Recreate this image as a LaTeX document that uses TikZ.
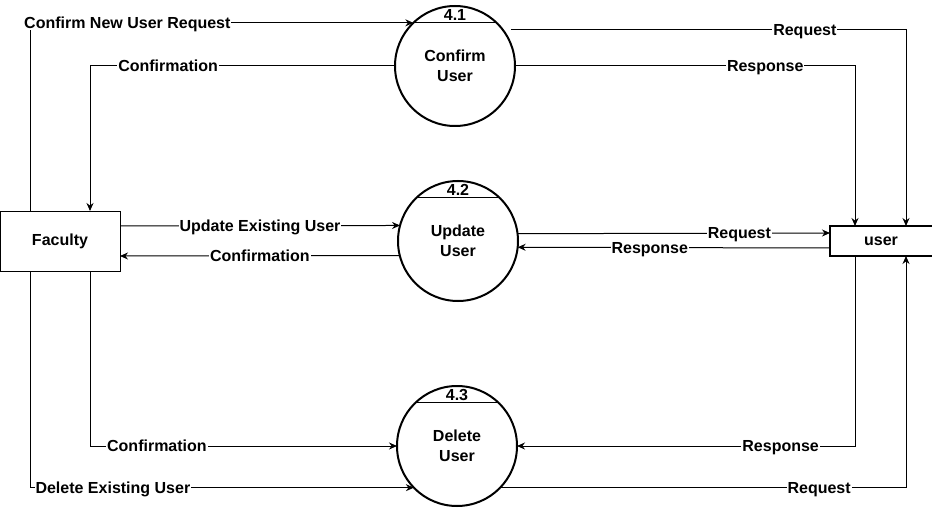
\documentclass[tikz,border=0pt]{standalone}
\usepackage{fontspec}
\setmainfont{Liberation Sans}
\usetikzlibrary{arrows.meta}

\begin{document}
\begin{tikzpicture}[x=1pt, y=-1pt,
  entity/.style={draw=black, line width=1pt, minimum width=120pt, minimum height=60pt, outer sep=0pt, font=\bfseries\fontsize{16}{20}\selectfont},
  proc/.style={circle, draw=black, line width=2pt, minimum size=120pt, inner sep=0pt, outer sep=0pt, align=center, font=\bfseries\fontsize{16}{20}\selectfont},
  pnum/.style={inner sep=0pt, text height=11.5pt, text depth=0pt, font=\bfseries\fontsize{16}{20}\selectfont},
  store/.style={minimum width=102pt, minimum height=30pt, outer sep=0pt, font=\bfseries\fontsize{16}{20}\selectfont},
  flow/.style={-{Stealth[length=8pt, width=7pt]}, line width=1pt, black},
  lbl/.style={fill=white, inner sep=1pt, text height=11.5pt, text depth=0pt, font=\bfseries\fontsize{16}{20}\selectfont},
]
\useasboundingbox (0,0) rectangle (932,508);

% ── Entity and store ──
\node[entity] (fac) at (60,241) {Faculty};
\node[store] (user) at (881,241) {user};
\draw[line width=2pt] (user.north east) -- (user.north west) -- (user.south west) -- (user.south east);

% ── Processes ──
\node[proc] (p41) at (455,66) {Confirm\\User};
\node[proc] (p42) at (458,241) {Update\\User};
\node[proc] (p43) at (457,446) {Delete\\User};

\draw[line width=1pt] (p41.134) -- (p41.46);
\draw[line width=1pt] (p42.134) -- (p42.46);
\draw[line width=1pt] (p43.134) -- (p43.46);

\node[pnum] (n41) at (455,15) {4.1};
\node[pnum] (n42) at (458,190) {4.2};
\node[pnum] (n43) at (457,395) {4.3};

% ── 4.1 flows ──
\draw[flow] ([xshift=-30pt]fac.north) |- node[lbl, pos=0.627] {Confirm New User Request} (p41.134);
\draw[flow] (p41.west) -| node[lbl, pos=0.372] {Confirmation} ([xshift=30pt]fac.north);
\draw[flow] ([xshift=8pt]p41.37) -| node[lbl, pos=0.372] {Request} ([xshift=25pt]user.north);
\draw[flow] (p41.east) -| node[lbl, pos=0.368] {Response} ([xshift=-26pt]user.north);

% ── 4.2 flows ──
\draw[flow] ([yshift=15pt]fac.east) -- node[lbl] {Update Existing User} (p42.165.5);
\draw[flow] (p42.194.5) -- node[lbl] {Confirmation} ([yshift=-15pt]fac.east);
\draw[flow] (p42.7.7) -- node[lbl, pos=0.71] {Request} ([yshift=8pt]user.west);
\draw[flow] ([yshift=-7pt]user.west) -- node[lbl, pos=0.577] {Response} (p42.-6.7);

% ── 4.3 flows ──
\draw[flow] ([xshift=30pt]fac.south) |- node[lbl, pos=0.609] {Confirmation} (p43.west);
\draw[flow] ([xshift=-30pt]fac.south) |- node[lbl, pos=0.608] {Delete Existing User} (p43.224.4);
\draw[flow] ([xshift=-26pt]user.south) |- node[lbl, pos=0.61] {Response} (p43.east);
\draw[flow] (p43.-44.4) -| node[lbl, pos=0.393] {Request} ([xshift=25pt]user.south);

\end{tikzpicture}
\end{document}
